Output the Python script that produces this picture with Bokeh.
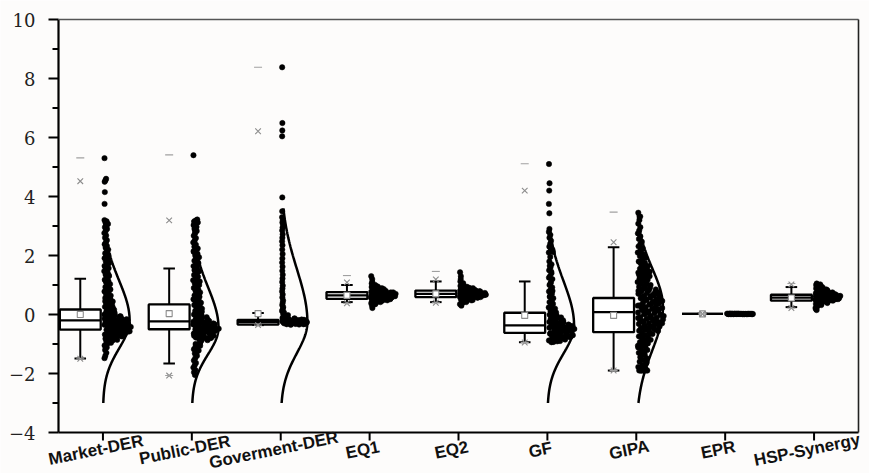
import numpy as np
from bokeh.plotting import figure
from bokeh.models import ColumnDataSource, LabelSet
from bokeh.core.properties import value
from bokeh.embed import file_html
from bokeh.resources import INLINE

categories = ["Market-DER", "Public-DER", "Goverment-DER", "EQ1", "EQ2",
              "GF", "GIPA", "EPR", "HSP-Synergy"]
y_major = [-4, -2, 0, 2, 4, 6, 8, 10]
y_minor = [-3, -1, 1, 3, 5, 7, 9]
y_labels = ["\u22124", "\u22122", "0", "2", "4", "6", "8", "10"]

# box statistics
q1     = [-0.51, -0.50, -0.34, 0.53, 0.59, -0.62, -0.60, 0.02, 0.47]
median = [-0.20, -0.23, -0.26, 0.65, 0.70, -0.37,  0.08, 0.02, 0.57]
q3     = [ 0.17,  0.34, -0.18, 0.76, 0.81,  0.06,  0.56, 0.02, 0.67]
mean   = [ 0.00,  0.03,  0.03, 0.65, 0.70, -0.03, -0.03, 0.02, 0.56]
w_lo   = [-1.49, -1.66, -0.36, 0.42, 0.42, -0.94, -1.90, 0.02, 0.25]
w_hi   = [ 1.21,  1.56,  0.05, 1.00, 1.12,  1.12,  2.28, 0.02, 0.93]
p01    = [-1.50, -2.07, -0.36, 0.38, 0.40, -0.95, -1.90, 0.02, 0.22]
p99    = [ 4.52,  3.19,  6.21, 1.09, 1.19,  4.20,  2.45, 0.02, 1.02]
v_min  = [-1.50, -2.07, -0.36, 0.38, 0.40, -0.95, -1.90, 0.02, 0.22]
v_max  = [ 5.31,  5.41,  8.38, 1.32, 1.46,  5.11,  3.47, 0.02, 1.05]

market_der = [5.30, 4.60, 4.55, 4.50, 4.15, 3.75,
    3.20, 3.16, 3.12, 3.07, 3.02, 2.96, 2.90, 2.83, 2.76, 2.68, 2.60, 2.52, 2.45, 2.38, 2.32, 2.26, 2.20,
    2.14, 2.08, 2.02, 1.96, 1.91, 1.86, 1.80, 1.74, 1.68, 1.62, 1.57, 1.52, 1.47, 1.41, 1.35, 1.30, 1.24,
    1.18, 1.13, 1.08, 1.03, 0.98, 0.93, 0.88, 0.83, 0.78, 0.73, 0.68, 0.64, 0.60, 0.56, 0.52, 0.48, 0.44,
    0.40, 0.36, 0.33, 0.30, 0.26, 0.22, 0.19, 0.16, 0.12, 0.09, 0.06, 0.03, 0.00,
    -0.02, -0.04, -0.06, -0.08, -0.10, -0.12, -0.14, -0.16, -0.18, -0.20, -0.22, -0.24, -0.26, -0.28,
    -0.30, -0.32, -0.34, -0.36, -0.38, -0.40, -0.42, -0.44, -0.46, -0.48, -0.50, -0.52, -0.54, -0.56,
    -0.58, -0.60, -0.62, -0.64, -0.66, -0.68, -0.70, -0.72, -0.74, -0.76, -0.78, -0.80, -0.83, -0.86,
    -0.89, -0.92, -0.96, -1.00, -1.05, -1.12, -1.20, -1.30, -1.40, -1.48,
    -0.15, -0.25, -0.35, -0.45, -0.55, -0.65, -0.75, -0.30, -0.40, -0.50, -0.20, -0.60,
    -0.03, -0.07, -0.11, -0.17, -0.23, -0.27, -0.33, -0.37, -0.43, -0.47, -0.53, -0.57, -0.63, -0.67,
    -0.73, -0.77, -0.82, -0.88, -0.31, -0.41, -0.51, -0.61, -0.71, -0.21, -0.13,
    0.05, 0.15, 0.25, 0.35, 0.45, 0.55, 0.70, 0.85, 1.00, 1.15, 1.33, 1.50, 1.65, 1.85, 2.05]

public_der = [5.40,
    3.22, 3.19, 3.16, 3.12, 3.08, 3.03, 2.97, 2.90, 2.83, 2.75, 2.67, 2.59, 2.51, 2.44, 2.37, 2.30,
    2.24, 2.18, 2.12, 2.06, 2.00, 1.94, 1.88, 1.82, 1.76, 1.70, 1.64, 1.58, 1.52, 1.46, 1.40, 1.34,
    1.28, 1.22, 1.16, 1.10, 1.05, 1.00, 0.95, 0.90, 0.85, 0.80, 0.75, 0.70, 0.65, 0.60, 0.56, 0.52,
    0.48, 0.44, 0.40, 0.36, 0.32, 0.28, 0.24, 0.20, 0.16, 0.12, 0.08, 0.04, 0.00, -0.03, -0.06,
    -0.09, -0.12, -0.15, -0.18, -0.21, -0.24, -0.27, -0.30, -0.33, -0.36, -0.39, -0.42, -0.45, -0.48,
    -0.51, -0.54, -0.57, -0.60, -0.63, -0.66, -0.69, -0.72, -0.75, -0.78, -0.81, -0.84, -0.87, -0.90,
    -0.20, -0.30, -0.40, -0.50, -0.60, -0.70, -0.80, -0.25, -0.35, -0.45, -0.55, -0.65,
    -0.95, -1.00, -1.06, -1.12, -1.18, -1.25, -1.32, -1.40, -1.48, -1.56, -1.64, -1.72, -1.80, -1.88,
    -1.96, -2.05,
    -0.10, -0.16, -0.22, -0.28, -0.34, -0.38, -0.44, -0.52, -0.58, -0.64, -0.68, -0.74, -0.79, -0.85,
    -0.32, -0.42, -0.62, -0.72, -0.47, -0.57,
    0.10, 0.30, 0.50, 0.72, 0.92, 1.12, 1.31, 1.50, 1.72, 1.92, 2.15, -0.98, -1.10, -1.22]

goverment_der = [8.38, 6.49, 6.24, 6.04, 3.97,
    3.50, 3.30, 3.20, 3.12, 3.05, 2.95, 2.85, 2.72, 2.60, 2.48, 2.35, 2.20, 2.05, 1.90, 1.76, 1.62,
    1.48, 1.35, 1.22, 1.10, 0.98, 0.88, 0.78, 0.68, 0.58, 0.48, 0.40, 0.32, 0.25, 0.18, 0.12, 0.07,
    0.02, -0.02, -0.06, -0.10, -0.13, -0.16,
    -0.18, -0.19, -0.20, -0.21, -0.22, -0.23, -0.24, -0.25, -0.26, -0.27, -0.28, -0.29, -0.30, -0.31,
    -0.32, -0.33, -0.34, -0.35, -0.20, -0.22, -0.24, -0.25, -0.26, -0.27, -0.28, -0.30, -0.23, -0.25,
    -0.27, -0.29, -0.21, -0.26, -0.24, -0.28, -0.31, -0.22, -0.25, -0.27, -0.29, -0.26,
    -0.19, -0.21, -0.23, -0.25, -0.27, -0.29, -0.31, -0.33, -0.22, -0.24, -0.26, -0.28, -0.30, -0.20,
    -0.25, -0.27, -0.23, -0.26, -0.29, -0.32, -0.12, -0.14, -0.15, -0.17]

eq1 = [1.30, 1.20, 1.10, 1.05, 1.00, 0.96, 0.93, 0.90, 0.88, 0.86, 0.84, 0.82, 0.80, 0.79, 0.78,
    0.77, 0.76, 0.75, 0.74, 0.73, 0.72, 0.71, 0.70, 0.69, 0.68, 0.67, 0.66, 0.65, 0.64, 0.63, 0.62,
    0.61, 0.60, 0.59, 0.58, 0.57, 0.56, 0.55, 0.54, 0.53, 0.52, 0.51, 0.50, 0.48, 0.46, 0.44, 0.42,
    0.40, 0.38, 0.35, 0.30, 0.22, 0.70, 0.65, 0.60, 0.55, 0.75, 0.68, 0.62, 0.58, 0.72,
    0.45, 0.47, 0.49, 0.52, 0.54, 0.56, 0.59, 0.61, 0.63, 0.66, 0.69, 0.71, 0.74, 0.77, 0.81, 0.85,
    0.89, 0.64, 0.67, 0.57, 0.53, 0.73, 0.79, 0.83, 0.95, 0.43, 0.39, 0.87]

eq2 = [1.43, 1.30, 1.20, 1.12, 1.06, 1.01, 0.97, 0.94, 0.91, 0.89, 0.87, 0.85, 0.83, 0.82, 0.81,
    0.80, 0.79, 0.78, 0.77, 0.76, 0.75, 0.74, 0.73, 0.72, 0.71, 0.70, 0.69, 0.68, 0.67, 0.66, 0.65,
    0.64, 0.63, 0.62, 0.61, 0.60, 0.59, 0.58, 0.57, 0.56, 0.55, 0.53, 0.51, 0.49, 0.47, 0.45, 0.42,
    0.39, 0.35, 0.30, 0.75, 0.70, 0.65, 0.60, 0.80, 0.72, 0.67, 0.62, 0.78, 0.68,
    0.50, 0.52, 0.54, 0.57, 0.59, 0.61, 0.64, 0.66, 0.69, 0.71, 0.74, 0.76, 0.79, 0.82, 0.86, 0.90,
    0.95, 0.68, 0.72, 0.63, 0.58, 0.77, 0.84, 0.88, 1.00, 0.48, 0.44, 0.92]

gf = [5.10, 4.45, 4.20, 3.75, 3.43,
    2.90, 2.80, 2.70, 2.60, 2.50, 2.40, 2.30, 2.20, 2.15, 2.10, 1.95, 1.80, 1.70, 1.60, 1.50, 1.40,
    1.30, 1.20, 1.10, 1.00, 0.92, 0.85, 0.78, 0.70, 0.62, 0.55, 0.48, 0.42, 0.36, 0.30, 0.24, 0.18,
    0.12, 0.07, 0.03, -0.01, -0.04, -0.07, -0.10, -0.13, -0.16, -0.19, -0.22, -0.25, -0.28, -0.31,
    -0.34, -0.37, -0.40, -0.43, -0.46, -0.49, -0.52, -0.55, -0.58, -0.61, -0.64, -0.67, -0.70, -0.73,
    -0.76, -0.79, -0.82, -0.85, -0.88, -0.91, -0.94,
    -0.20, -0.30, -0.40, -0.50, -0.60, -0.70, -0.80, -0.35, -0.45, -0.55, -0.65, -0.75, -0.25, -0.85,
    -0.05, -0.15, -0.27, -0.33, -0.39, -0.42, -0.48, -0.53, -0.57, -0.63, -0.68, -0.72, -0.77, -0.83,
    -0.87, -0.90, -0.93, -0.45, -0.52, -0.62, -0.38, -0.58, -0.68, -0.78,
    0.05, 0.20, 0.40, 0.60, 0.80, 1.05, 1.25, 1.45, 1.65, 2.12, 2.18]

gipa = [3.45, 3.32, 3.20, 3.08, 2.96, 2.85, 2.75, 2.65, 2.56, 2.47, 2.39, 2.31, 2.24, 2.17, 2.10,
    2.04, 1.98, 1.92, 1.86, 1.80,
    1.75, 1.70, 1.65, 1.60, 1.55, 1.50, 1.46, 1.42, 1.38, 1.34, 1.30, 1.26, 1.22, 1.18, 1.14, 1.10,
    1.06, 1.03, 1.00, 0.97, 0.94, 0.91,
    0.88, 0.85, 0.82, 0.79, 0.76, 0.73, 0.70, 0.67, 0.64, 0.61, 0.58, 0.55, 0.52, 0.49, 0.46, 0.43,
    0.40, 0.37, 0.34, 0.31, 0.28, 0.25, 0.22, 0.19, 0.16, 0.13, 0.10, 0.07, 0.04, 0.01, -0.02, -0.05,
    -0.08, -0.11, -0.14, -0.17, -0.20, -0.23, -0.26, -0.29, -0.32, -0.35, -0.38, -0.41, -0.44, -0.47,
    -0.50, -0.53, -0.56, -0.59, -0.62,
    -0.66, -0.70, -0.74, -0.78, -0.82, -0.86, -0.90, -0.94, -0.98, -1.02, -1.06, -1.10, -1.15, -1.20,
    -1.25, -1.30, -1.36, -1.42, -1.48, -1.54, -1.60, -1.66, -1.72, -1.78, -1.84,
    -1.90, -1.90, -1.90, -1.90, -1.90, -1.90,
    0.30, 0.20, 0.10, 0.00, -0.10, -0.20, 0.40, 0.50, -0.30, -0.40, 0.60, 0.70,
    0.90, 0.80, 0.65, 0.55, 0.45, 0.35, 0.27, 0.15, 0.05, -0.05, -0.15, -0.25, -0.35, -0.45, -0.55,
    -0.65, -0.72, 0.75, 0.62, 0.32, 0.18, 0.08, -0.12, -0.22, -0.42, -0.52, 1.20, 1.35, -0.85, -1.00,
    1.45, 1.62, 1.78, 1.95, 2.12, -1.12, -1.28, -1.45, -1.62, -1.75]

epr = [0.02, 0.02, 0.01, 0.03, 0.02, 0.02, 0.01, 0.02, 0.03, 0.02, 0.02, 0.01, 0.02, 0.02, 0.03,
    0.02, 0.01, 0.02, 0.02, 0.03, 0.02, 0.02, 0.01, 0.02, 0.02, 0.02, 0.03, 0.02, 0.01, 0.02,
    0.02, 0.02, 0.03, 0.01, 0.02]

hsp_synergy = [1.05, 1.02, 0.98, 0.95, 0.92, 0.90, 0.88, 0.86, 0.84, 0.82, 0.80, 0.78, 0.76, 0.74,
    0.72, 0.70, 0.69, 0.68, 0.67, 0.66, 0.65, 0.64, 0.63, 0.62, 0.61, 0.60, 0.59, 0.58, 0.57, 0.56,
    0.55, 0.54, 0.53, 0.52, 0.51, 0.50, 0.49, 0.48, 0.47, 0.46, 0.45, 0.43, 0.41, 0.39, 0.37, 0.35,
    0.32, 0.28, 0.22, 0.15, 0.18, 0.60, 0.55, 0.65, 0.50, 0.70, 0.75, 0.58, 0.62, 0.52,
    0.44, 0.46, 0.48, 0.50, 0.52, 0.54, 0.56, 0.58, 0.60, 0.62, 0.64, 0.66, 0.68, 0.71, 0.73, 0.77,
    0.81, 0.85, 0.89, 0.93, 0.97, 0.40, 0.36, 0.53, 0.57, 0.63, 0.67, 1.00]

points = [market_der, public_der, goverment_der, eq1, eq2, gf, gipa, epr, hsp_synergy]
bandwidth = [0.12, 0.12, 0.12, 0.10, 0.10, 0.12, 0.14, 0.10, 0.10]

# distribution curves (two-sided normal shape) for five series
curve_cat   = [1, 2, 3, 6, 7]
curve_mu    = [-0.20, -0.45, -0.26, -0.37, 0.25]
curve_sd_lo = [0.95, 0.90, 1.05, 0.95, 1.45]
curve_sd_hi = [1.35, 1.38, 1.80, 1.50, 1.30]
curve_lo    = [-3.0, -3.0, -3.0, -3.0, -3.0]
curve_hi    = [3.2, 3.2, 3.6, 2.9, 3.4]

# ---------------- layout ----------------
W, H = 869, 473
FRAME_L, FRAME_R, FRAME_T, FRAME_B = 58.0, 858.0, 19.0, 432.0   # pixel positions of the axes box
X_LEFT, X_RIGHT = 0.5, 9.5
Y_BOTTOM, Y_TOP = -4.0, 10.0
PXX = (FRAME_R - FRAME_L) / (X_RIGHT - X_LEFT)
PXY = (FRAME_B - FRAME_T) / (Y_TOP - Y_BOTTOM)
x_range = (X_LEFT - FRAME_L / PXX, X_RIGHT + (W - FRAME_R) / PXX)
y_range = (Y_BOTTOM - (H - FRAME_B) / PXY, Y_TOP + FRAME_T / PXY)

BOX_OFF = -0.255
BOX_HALF = 0.23
CAP_HALF = 0.065
PEAK = 0.30

xs = np.arange(1, len(categories) + 1, dtype=float)
bx = xs + BOX_OFF

p = figure(width=W, height=H, x_range=x_range, y_range=y_range,
           output_backend="svg", toolbar_location=None,
           min_border_left=0, min_border_right=0, min_border_top=0, min_border_bottom=0)
p.background_fill_color = "#fdfcfb"
p.border_fill_color = "#fdfcfb"
p.xgrid.visible = False
p.ygrid.visible = False
p.outline_line_color = None
p.xaxis.visible = False
p.yaxis.visible = False

# ---- axes drawn as glyphs ----
ytk = 10.0 / PXX
ymtk = 6.0 / PXX
xtk = 8.0 / PXY
p.segment(x0=[X_LEFT], y0=[Y_BOTTOM], x1=[X_LEFT], y1=[Y_TOP], line_color="black", line_width=2.2)
p.segment(x0=[X_LEFT] * len(y_major), y0=y_major, x1=[X_LEFT - ytk] * len(y_major), y1=y_major,
          line_color="black", line_width=2)
p.segment(x0=[X_LEFT] * len(y_minor), y0=y_minor, x1=[X_LEFT - ymtk] * len(y_minor), y1=y_minor,
          line_color="black", line_width=2)
p.text(x=[X_LEFT - 23.0 / PXX] * len(y_major), y=y_major, text=y_labels,
       text_font=value("DejaVu Serif"), text_font_size="18px", text_color="#222222",
       text_align="right", text_baseline="middle")
p.segment(x0=[X_LEFT], y0=[Y_BOTTOM], x1=[X_RIGHT], y1=[Y_BOTTOM], line_color="black", line_width=2.2)
p.segment(x0=xs, y0=[Y_BOTTOM] * len(xs), x1=xs, y1=[Y_BOTTOM - xtk] * len(xs),
          line_color="black", line_width=2)
p.segment(x0=[X_LEFT], y0=[Y_TOP], x1=[X_RIGHT], y1=[Y_TOP], line_color="#555555", line_width=1.6)
p.segment(x0=[X_RIGHT], y0=[Y_BOTTOM], x1=[X_RIGHT], y1=[Y_TOP], line_color="#222222", line_width=1.6)

# whiskers
p.segment(x0=bx, y0=q3, x1=bx, y1=w_hi, line_color="black", line_width=2)
p.segment(x0=bx, y0=q1, x1=bx, y1=w_lo, line_color="black", line_width=2)
p.segment(x0=bx - CAP_HALF, y0=w_hi, x1=bx + CAP_HALF, y1=w_hi, line_color="black", line_width=2)
p.segment(x0=bx - CAP_HALF, y0=w_lo, x1=bx + CAP_HALF, y1=w_lo, line_color="black", line_width=2)

# boxes
p.quad(left=bx - BOX_HALF, right=bx + BOX_HALF, bottom=q1, top=q3,
       fill_color="white", line_color="black", line_width=2.3)
p.segment(x0=bx - BOX_HALF, y0=median, x1=bx + BOX_HALF, y1=median, line_color="black", line_width=2.3)

# summary markers
p.scatter(x=bx, y=mean, marker="square", size=6, fill_color="white", line_color="#8c8c8c", line_width=1.1)
p.scatter(x=np.concatenate([bx, bx]), y=p01 + p99, marker="x", size=8, line_color="#8c8c8c", line_width=1.1)
p.scatter(x=np.concatenate([bx, bx]), y=v_min + v_max, marker="dash", size=8, line_color="#a0a0a0", line_width=1.1)

# jittered points, spread by local density
px_all, py_all = [], []
for i, vals in enumerate(points):
    v = np.asarray(vals, dtype=float)
    d = np.exp(-0.5 * ((v[:, None] - v[None, :]) / bandwidth[i]) ** 2).sum(axis=1)
    dn = d / d.max()
    u = (np.arange(len(v)) * 0.6180339887 + 0.37) % 1.0
    px_all.append(xs[i] + 0.015 + u * PEAK * dn ** 1.1)
    py_all.append(v)
p.scatter(x=np.concatenate(px_all), y=np.concatenate(py_all), marker="circle", size=5.4,
          fill_color="black", line_color="black", line_width=0.5)

# distribution curves
for c, mu, slo, shi, lo, hi in zip(curve_cat, curve_mu, curve_sd_lo, curve_sd_hi, curve_lo, curve_hi):
    yy = np.linspace(lo, hi, 200)
    s = np.where(yy < mu, slo, shi)
    xx = c + PEAK * np.exp(-0.5 * ((yy - mu) / s) ** 2)
    p.line(xx, yy, line_color="black", line_width=2.5)

# category labels below the axis
lab = ColumnDataSource(dict(x=list(xs), y=[Y_BOTTOM - 17.5 / PXY] * len(xs), text=categories))
p.add_layout(LabelSet(x="x", y="y", text="text", source=lab, angle=0.2, x_offset=-7,
                      text_align="center", text_baseline="middle",
                      text_font=value("Liberation Sans"), text_font_style="bold",
                      text_font_size="17px", text_color="#111111"))

open("out.html", "w").write(file_html(p, INLINE))
